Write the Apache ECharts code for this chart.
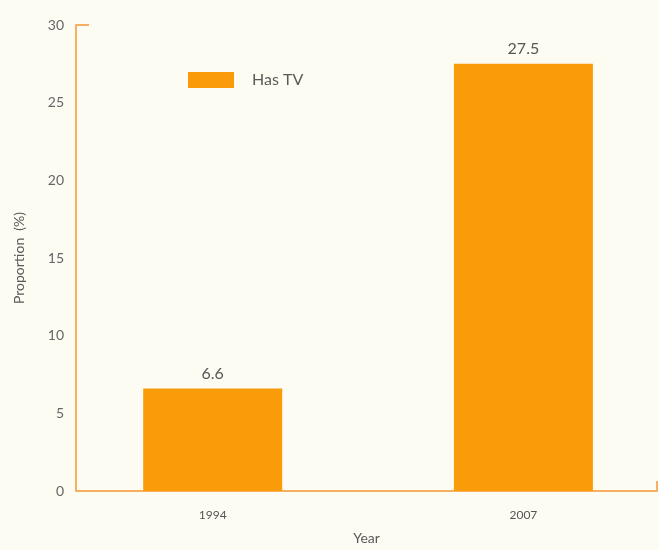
<!DOCTYPE html>
<html lang="en">
<head>
<meta charset="UTF-8">
<title>Has TV</title>
<style>
  html, body { margin: 0; padding: 0; background: #fdfcf2; }
  #main { width: 659px; height: 550px; }
</style>
</head>
<body>
<div id="main"></div>
<script src="https://cdn.jsdelivr.net/npm/echarts@6/dist/echarts.min.js"></script>
<script type="text/javascript">
    // data
    var years = ['1994', '2007'];
    var hasTV = [6.6, 27.5];
    var yTicks = [0, 5, 10, 15, 20, 25, 30];

    var barData = hasTV.map(function (v, i) { return [i, v]; });
    var xMin = -0.44, xMax = 1.43;

    var myChart = echarts.init(document.getElementById('main'));
    var option = {
        backgroundColor: '#fdfcf2',
        textStyle: { fontFamily: 'Lato' },
        legend: {
            data: ['Has TV'],
            icon: 'rect',
            left: 183,
            top: 67,
            itemWidth: 46,
            itemHeight: 16,
            textStyle: { color: '#5a5a5a', fontSize: 16, padding: [0, 0, 0, 13] }
        },
        grid: { left: 76, right: 2, top: 25, bottom: 55 },
        xAxis: {
            type: 'value',
            min: xMin,
            max: xMax,
            name: 'Year',
            nameLocation: 'middle',
            nameGap: 40,
            nameTextStyle: { color: '#5a5a5a', fontSize: 14 },
            axisLine: { onZero: false, lineStyle: { color: '#f7b062', width: 2 } },
            axisTick: { show: true, inside: true, length: 10, customValues: [xMax], lineStyle: { color: '#f7b062', width: 2 } },
            axisLabel: {
                customValues: [0, 1],
                color: '#555',
                fontSize: 12,
                margin: 18,
                formatter: function (v) { return years[Math.round(v)]; }
            },
            splitLine: { show: false }
        },
        yAxis: {
            type: 'value',
            min: 0,
            max: 30,
            interval: 5,
            name: 'Proportion  (%)',
            nameLocation: 'middle',
            nameGap: 50,
            nameTextStyle: { color: '#5a5a5a', fontSize: 14 },
            axisLine: { show: true, onZero: false, lineStyle: { color: '#f7b062', width: 2 } },
            axisTick: { show: true, inside: true, length: 13, customValues: [30], lineStyle: { color: '#f7b062', width: 2 } },
            axisLabel: { customValues: yTicks, color: '#666', fontSize: 14, margin: 12 },
            splitLine: { show: false }
        },
        series: [{
            name: 'Has TV',
            type: 'bar',
            barWidth: 139,
            data: barData,
            itemStyle: { color: '#fa9b0a' },
            label: {
                show: true,
                position: 'top',
                distance: 7,
                color: '#555',
                fontSize: 16,
                formatter: function (p) { return p.value[1]; }
            }
        }]
    };
    myChart.setOption(option);
</script>
</body>
</html>
